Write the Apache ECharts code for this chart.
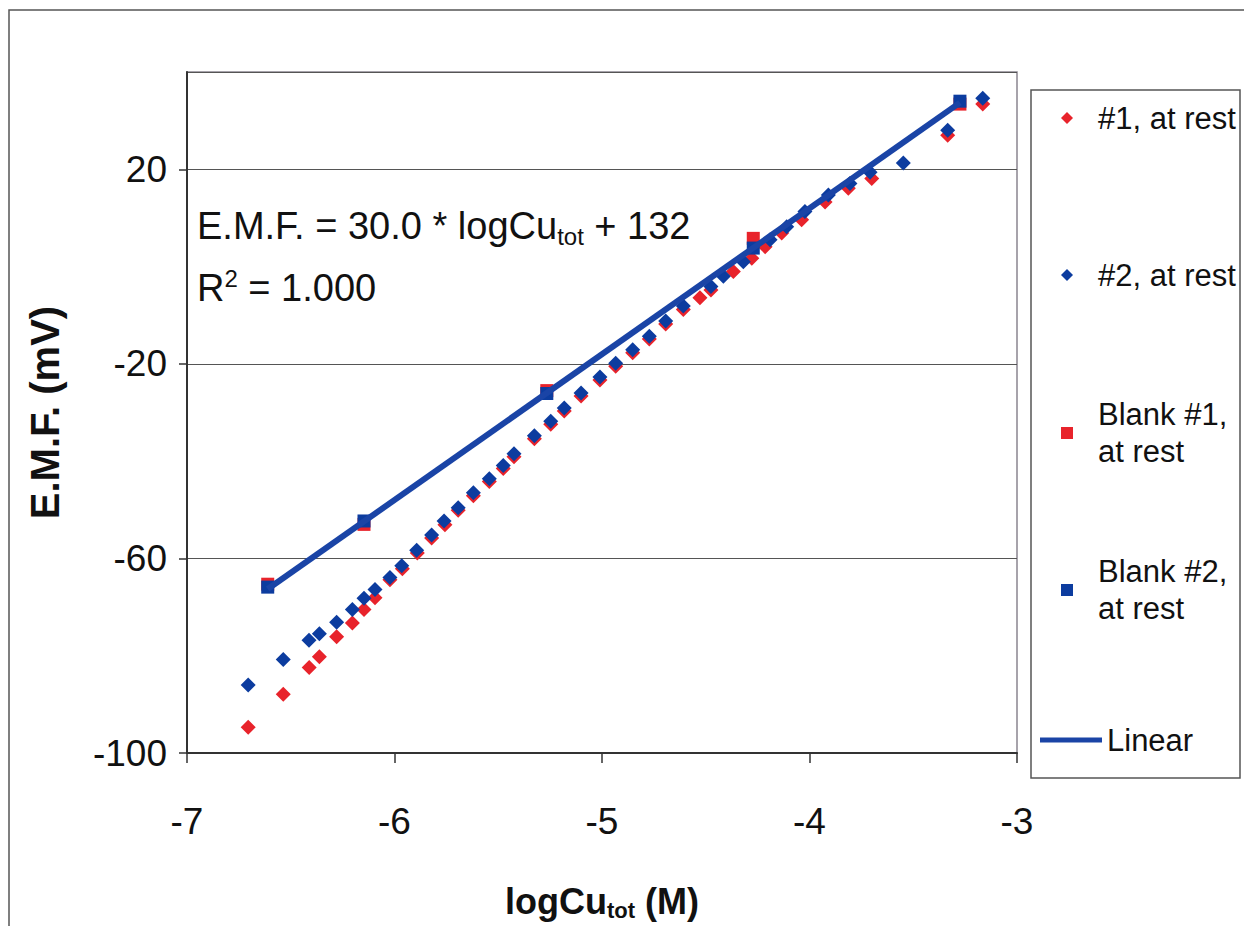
<!DOCTYPE html>
<html>
<head>
<meta charset="utf-8">
<script src="https://cdn.jsdelivr.net/npm/echarts@6/dist/echarts.min.js"></script>
<style>html,body{margin:0;padding:0;background:#fff}#c{width:1244px;height:926px}</style>
</head>
<body>
<div id="c"></div>
<script>
// ---- data ----
const xS1 = [-6.705,-6.536,-6.411,-6.362,-6.279,-6.203,-6.147,-6.094,-6.022,-5.962,-5.890,-5.821,-5.757,-5.693,-5.620,-5.543,-5.476,-5.424,-5.326,-5.247,-5.182,-5.101,-5.010,-4.934,-4.852,-4.772,-4.693,-4.608,-4.528,-4.475,-4.367,-4.278,-4.214,-4.134,-4.038,-3.925,-3.813,-3.700,-3.334,-3.165];
const yS1 = [-94.7,-87.9,-82.4,-80.2,-76.1,-73.3,-70.5,-68.1,-64.4,-62.1,-58.9,-55.8,-53.1,-50.1,-47.1,-44.2,-41.5,-39.1,-35.4,-32.4,-29.7,-26.6,-23.3,-20.5,-17.7,-14.9,-11.8,-8.8,-6.4,-4.8,-1.0,1.7,4.1,6.9,9.6,13.3,16.1,18.1,27.0,33.4];
const xS2 = [-6.705,-6.536,-6.412,-6.362,-6.279,-6.203,-6.147,-6.094,-6.022,-5.965,-5.893,-5.821,-5.761,-5.693,-5.620,-5.543,-5.476,-5.424,-5.326,-5.247,-5.182,-5.101,-5.010,-4.934,-4.852,-4.772,-4.693,-4.608,-4.475,-4.415,-4.319,-4.190,-4.110,-4.022,-3.909,-3.805,-3.708,-3.548,-3.334,-3.165];
const yS2 = [-86.0,-80.8,-76.8,-75.5,-73.1,-70.5,-68.2,-66.4,-63.9,-61.5,-58.3,-55.2,-52.3,-49.6,-46.5,-43.6,-40.9,-38.5,-34.8,-31.8,-29.1,-26.0,-22.7,-19.9,-17.1,-14.3,-11.2,-8.1,-4.1,-2.0,1.0,5.5,8.2,11.3,14.7,17.1,19.4,21.3,28.0,34.6];
const xB1 = [-6.611,-6.147,-5.266,-4.271,-3.275];
const yB1 = [-65.3,-53.0,-25.5,5.8,33.4];
const xB2 = [-6.611,-6.147,-5.266,-4.271,-3.275];
const yB2 = [-65.9,-52.3,-26.1,3.8,34.0];
const xLin = [-6.611,-3.275];
const yLin = [-66.3,33.7];
const seriesNames = ['#1, at rest','#2, at rest','Blank #1, at rest','Blank #2, at rest','Linear'];
const xTicks = {min:-7, max:-3, interval:1};
const yTicks = {min:-100, max:40, interval:40};
const equationText = 'E.M.F. = 30.0 * logCu';
const equationTail = ' + 132';
const r2Text = '1.000';

const zip = (xs, ys) => xs.map((x, i) => [x, ys[i]]);
const RED = '#e8232b', BLUE = '#0c3c9f', LINE = '#1a44a6';
const FONT = 'Liberation Sans, Arial, sans-serif';

const chart = echarts.init(document.getElementById('c'), null, {renderer: 'svg'});

const LEG_TEXT = {fontSize: 31, fontFamily: FONT, color: '#111', lineHeight: 37, padding: [0,0,0,20]};
function legendItem(name, top, left, opts) {
  return Object.assign({
    show: true, data: [name], orient: 'vertical', left: left, top: top, padding: 0,
    itemWidth: 12, itemHeight: 12, selectedMode: false,
    textStyle: LEG_TEXT
  }, opts || {});
}

chart.setOption({
  animation: false,
  backgroundColor: '#fff',
  grid: {left: 187, right: 227, top: 72, bottom: 170, show: true, borderColor: '#8a8590', borderWidth: 1.5},
  xAxis: {
    type: 'value', min: xTicks.min, max: xTicks.max, interval: xTicks.interval,
    axisLine: {show: true, onZero: false, lineStyle: {color: '#333', width: 2}},
    axisTick: {show: true, inside: false, length: 10, lineStyle: {color: '#333', width: 1.5}},
    splitLine: {show: false},
    axisLabel: {fontSize: 37, fontFamily: FONT, color: '#111', margin: 50},
    name: '{a|logCu}{b|tot}{a| (M)}', nameLocation: 'middle', nameGap: 128,
    nameTextStyle: {rich: {
      a: {fontSize: 36, fontWeight: 'bold', fontFamily: FONT, color: '#111'},
      b: {fontSize: 22, fontWeight: 'bold', fontFamily: FONT, color: '#111', padding: [18,0,0,0]}
    }}
  },
  yAxis: {
    type: 'value', min: yTicks.min, max: yTicks.max, interval: yTicks.interval,
    axisLine: {show: true, onZero: false, lineStyle: {color: '#333', width: 2}},
    axisTick: {show: true, inside: false, length: 8, lineStyle: {color: '#333', width: 1.5}},
    splitLine: {show: true, lineStyle: {color: '#555', width: 1.2}},
    axisLabel: {fontSize: 37, fontFamily: FONT, color: '#111', margin: 20, showMaxLabel: false},
    name: 'E.M.F. (mV)', nameLocation: 'middle', nameGap: 122, nameRotate: 90,
    nameTextStyle: {fontSize: 40, fontWeight: 'bold', fontFamily: FONT, color: '#111'}
  },
  legend: [
    legendItem(seriesNames[0], 118 - 18.5, 1061),
    legendItem(seriesNames[1], 275 - 18.5, 1061),
    legendItem(seriesNames[2], 433 - 55.5, 1061, {formatter: () => 'Blank #1,\nat rest',
      textStyle: Object.assign({}, LEG_TEXT, {padding: [37,0,0,20]})}),
    legendItem(seriesNames[3], 590 - 55.5, 1061, {formatter: () => 'Blank #2,\nat rest',
      textStyle: Object.assign({}, LEG_TEXT, {padding: [37,0,0,20]})}),
    legendItem(seriesNames[4], 740 - 18.5, 1040, {data: [{name: seriesNames[4], icon: 'rect'}],
      itemWidth: 62, itemHeight: 5,
      textStyle: Object.assign({}, LEG_TEXT, {padding: [0,0,0,0]})})
  ],
  graphic: [
    {type: 'rect', silent: true, shape: {x: 9, y: 10, width: 1300, height: 1000},
      style: {fill: 'none', stroke: '#555', lineWidth: 1.5}, z: -10},
    {type: 'rect', silent: true, shape: {x: 1031, y: 90, width: 209, height: 688},
      style: {fill: 'none', stroke: '#555', lineWidth: 1.5}, z: -5},
    {type: 'text', left: 197, top: 207, silent: true, style: {
      text: '{n|' + equationText + '}{s|tot}{n|' + equationTail + '}',
      rich: {
        n: {fontSize: 38, fontFamily: FONT, fill: '#111'},
        s: {fontSize: 24, fontFamily: FONT, fill: '#111', padding: [20,0,0,0]}
      }}},
    {type: 'text', left: 197, top: 266, silent: true, style: {
      text: '{n|R}{p|2}{n| = ' + r2Text + '}',
      rich: {
        n: {fontSize: 38, fontFamily: FONT, fill: '#111'},
        p: {fontSize: 24, fontFamily: FONT, fill: '#111', padding: [0,0,20,0]}
      }}}
  ],
  series: [
    {name: seriesNames[0], type: 'scatter', symbol: 'diamond', symbolSize: 15, data: zip(xS1, yS1), itemStyle: {color: RED, opacity: 1}, z: 2},
    {name: seriesNames[1], type: 'scatter', symbol: 'diamond', symbolSize: 15, data: zip(xS2, yS2), itemStyle: {color: BLUE, opacity: 1}, z: 3},
    {name: seriesNames[2], type: 'scatter', symbol: 'rect', symbolSize: 13, data: zip(xB1, yB1), itemStyle: {color: RED, opacity: 1}, z: 4},
    {name: seriesNames[3], type: 'scatter', symbol: 'rect', symbolSize: 13, data: zip(xB2, yB2), itemStyle: {color: BLUE, opacity: 1}, z: 5},
    {name: seriesNames[4], type: 'line', symbol: 'none', data: zip(xLin, yLin), lineStyle: {color: LINE, width: 6}, itemStyle: {color: LINE}, z: 6}
  ]
});
</script>
</body>
</html>
